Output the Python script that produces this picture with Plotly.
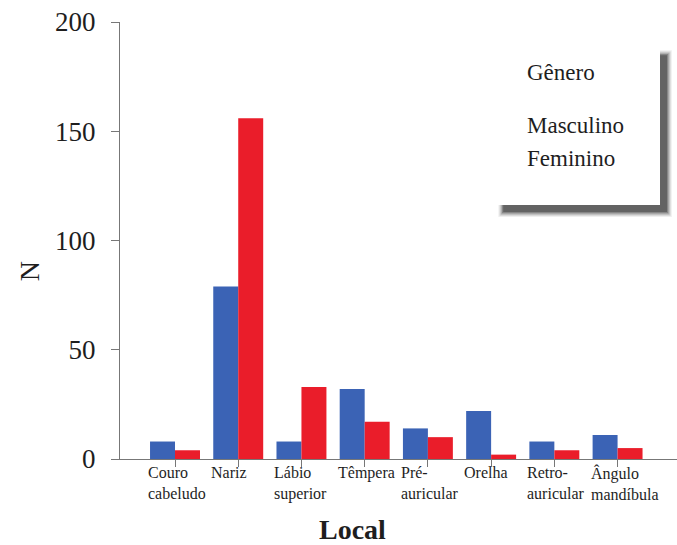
import plotly.graph_objects as go

categories = ["Couro<br>cabeludo", "Nariz", "Lábio<br>superior", "Têmpera",
              "Pré-<br>auricular", "Orelha", "Retro-<br>auricular", "Ângulo<br>mandíbula"]
masculino = [8, 79, 8, 32, 14, 22, 8, 11]
feminino = [4, 156, 33, 17, 10, 2, 4, 5]
y_ticks = [0, 50, 100, 150, 200]

BLUE = "#3B63B5"
RED = "#EA1D2A"
FONT = "Liberation Serif"
TXT = "#1e1e1e"

x_idx = list(range(len(categories)))

fig = go.Figure()
fig.add_trace(go.Bar(x=x_idx, y=masculino, name="Masculino", marker_color=BLUE,
                     marker_line_width=0, showlegend=False))
fig.add_trace(go.Bar(x=x_idx, y=feminino, name="Feminino", marker_color=RED,
                     marker_line_width=0, showlegend=False))

# category labels, left aligned at group start
for i, c in enumerate(categories):
    fig.add_annotation(x=i, y=0, xref="x", yref="paper", text=c, showarrow=False,
                       xanchor="left", yanchor="top", align="left", xshift=-29, yshift=-3,
                       font=dict(family=FONT, size=16, color=TXT))

# axis titles
fig.add_annotation(x=-0.163, y=0.43, xref="paper", yref="paper", text="N", showarrow=False,
                   xanchor="center", yanchor="middle",
                   textangle=-90, font=dict(family=FONT, size=28, color=TXT))
fig.add_annotation(x=0.418, y=(459 - 529) / 437, xref="paper", yref="paper", text="<b>Local</b>",
                   xanchor="center", yanchor="middle", borderpad=0,
                   showarrow=False, font=dict(family=FONT, size=28, color=TXT))

# legend box with shadow
x0, x1 = 0.670, 0.9695
y0, y1 = 0.581, 0.947
dx, dy = 7 / 557, 7 / 437
for k, op in enumerate([0.08, 0.14, 0.22, 0.32, 0.42]):
    g = (4 - k) * 1.2
    fig.add_shape(type="rect", xref="paper", yref="paper",
                  x0=x0 + dx - g / 557 + 3 / 557, x1=x1 + dx + g / 557,
                  y0=y0 - dy - g / 437, y1=y1 - dy + g / 437 - 3 / 437,
                  fillcolor=f"rgba(50,50,50,{op})", line_width=0, layer="above")
fig.add_shape(type="rect", xref="paper", yref="paper", x0=x0, x1=x1, y0=y0, y1=y1,
              fillcolor="white", line_width=0, layer="above")
leg_x = (527 - 120) / 557
for txt, py in [("Gênero", 73), ("Masculino", 125), ("Feminino", 158)]:
    fig.add_annotation(x=leg_x, y=(459 - py) / 437, xref="paper", yref="paper", text=txt,
                       showarrow=False, xanchor="left", yanchor="middle", xshift=-2,
                       font=dict(family=FONT, size=23, color=TXT))

fig.update_layout(
    width=677, height=545,
    margin=dict(l=120, r=0, t=22, b=86, autoexpand=False),
    paper_bgcolor="white", plot_bgcolor="white",
    barmode="group", bargap=0.21, bargroupgap=0,
    xaxis=dict(range=[-0.87, 7.94], showticklabels=False, showgrid=False, zeroline=False,
               showline=True, linecolor="#777", linewidth=1, automargin=False,
               tickmode="array", tickvals=x_idx, ticks="outside", ticklen=7,
               tickcolor="#777"),
    yaxis=dict(range=[0, 200], tickvals=y_ticks, showgrid=False, zeroline=False,
               showline=True, linecolor="#777", linewidth=1, ticks="outside", ticklen=8,
               tickcolor="#777", ticklabelstandoff=10, automargin=False,
               tickfont=dict(family=FONT, size=27, color=TXT)),
)

fig.write_html("out.html", config={"displayModeBar": False},
               post_script="document.body.style.margin='0';document.body.style.overflow='hidden';")
